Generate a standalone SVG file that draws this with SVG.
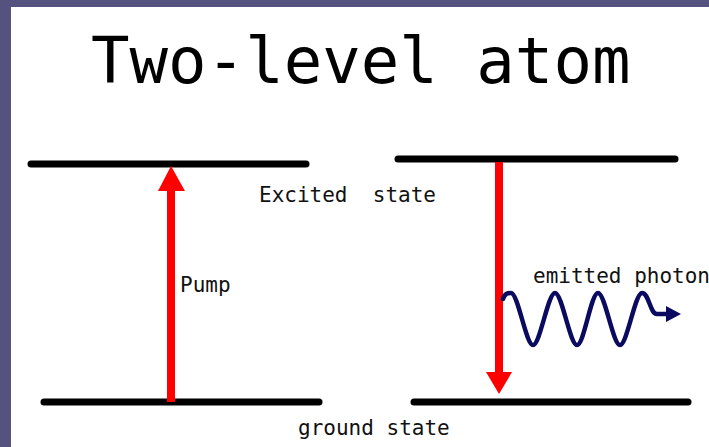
<svg xmlns="http://www.w3.org/2000/svg" width="709" height="447" viewBox="0 0 709 447">
  <style>
    .level { stroke: #000; stroke-width: 7; stroke-linecap: round; fill: none; }
    .shaft { fill: #ff0000; }
    .label { font-family: "DejaVu Sans Mono", "Liberation Mono", monospace; font-size: 21px; fill: #111; }
    .title { font-family: "DejaVu Sans Mono", "Liberation Mono", monospace; font-size: 64px; fill: #000; }
    .wave { stroke: #0a0a60; stroke-width: 4.5; fill: none; stroke-linecap: round; stroke-linejoin: round; }
  </style>

  <!-- slide frame and page -->
  <rect x="0" y="0" width="709" height="447" fill="#55527f"/>
  <rect x="11" y="7" width="698" height="440" fill="#ffffff"/>

  <text class="title" x="91" y="83">Two-level atom</text>

  <!-- energy levels -->
  <g id="excited-left"><line class="level" x1="31" y1="164" x2="306" y2="164"/></g>
  <g id="ground-left"><line class="level" x1="44" y1="402" x2="319" y2="402"/></g>
  <g id="excited-right"><line class="level" x1="398" y1="159" x2="675" y2="159"/></g>
  <g id="ground-right"><line class="level" x1="414" y1="402" x2="688" y2="402"/></g>

  <g id="labels">
    <text class="label" x="259" y="202" xml:space="preserve">Excited  state</text>
    <text class="label" x="180" y="292">Pump</text>
    <text class="label" x="533" y="283">emitted photon</text>
    <text class="label" x="298" y="435">ground state</text>
  </g>

  <g id="connectors">
    <!-- pump: ground up to excited -->
    <g id="pump">
      <rect class="shaft" x="167" y="188" width="8" height="214"/>
      <polygon class="shaft" points="158,191 171,166 185,191"/>
    </g>
    <!-- decay: excited down to ground -->
    <g id="decay">
      <rect class="shaft" x="495" y="162" width="8" height="212"/>
      <polygon class="shaft" points="486,372 499,394 512,372"/>
    </g>
    <!-- emitted photon wave -->
    <g id="photon">
      <path class="wave" d="M503,299 C505,293 508,293 511,293 C518,293 526,345 533,345 C540,345 548,293 555,293 C562,293 570,345 577,345 C584,345 591,293 598,293 C605,293 613,345 620,345 C627,345 635,293 642,293 C649,293 650,314 657,314 L668,314"/>
      <polygon points="666,306 681,314 666,322" fill="#0a0a60"/>
    </g>
  </g>
</svg>
